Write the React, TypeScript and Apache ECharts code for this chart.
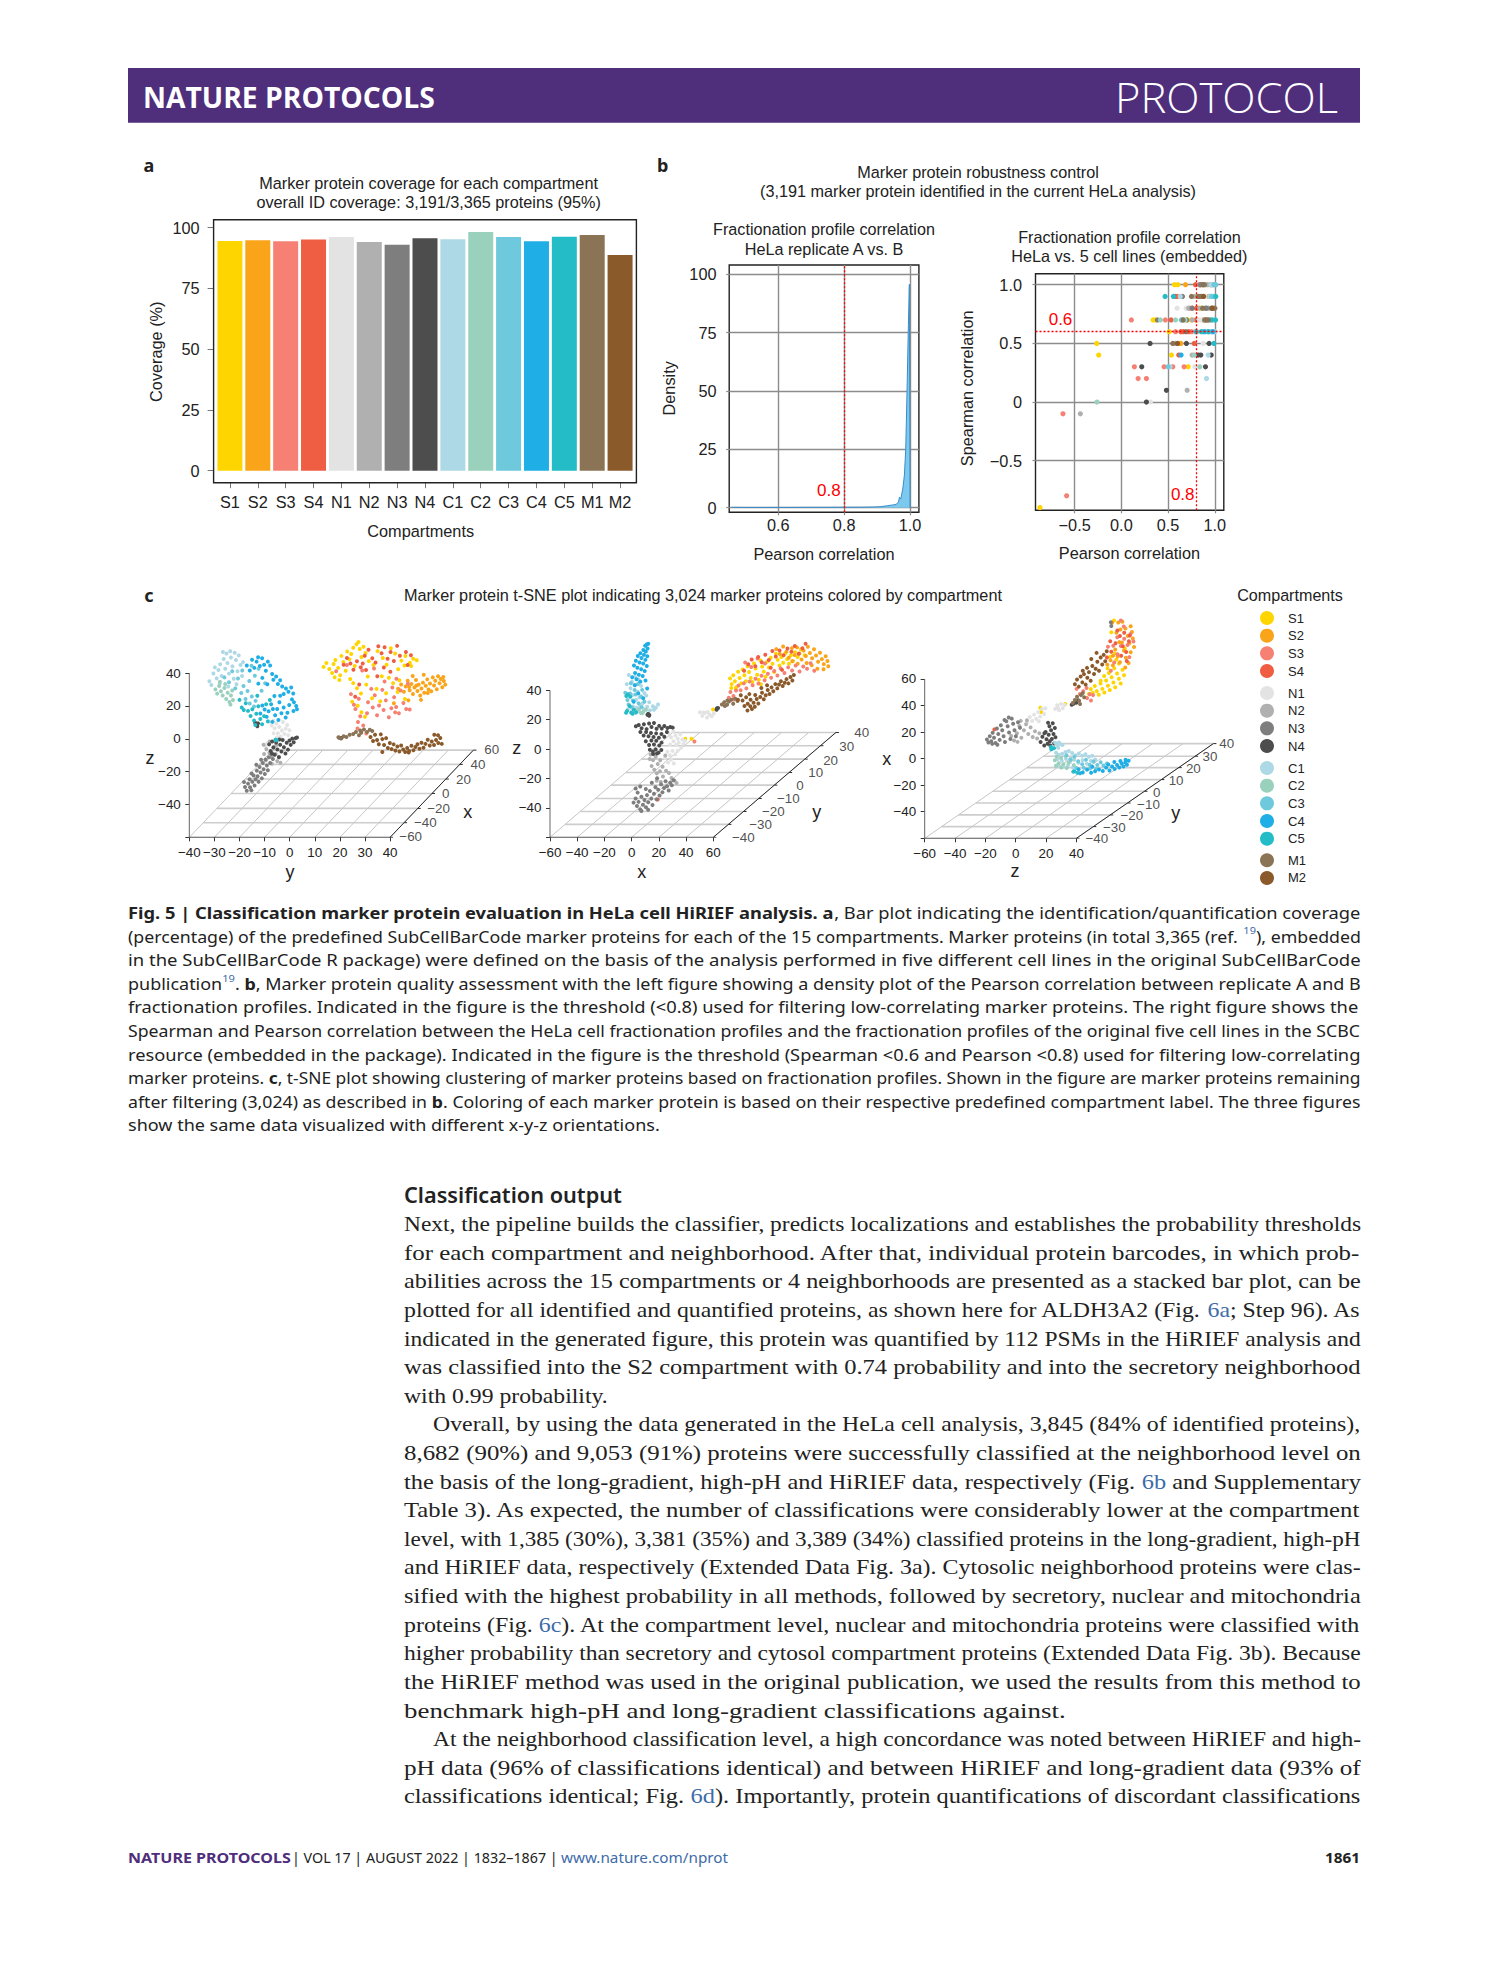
import React, { useEffect, useRef } from "react";
import * as echarts from "echarts";

const compartments = ["S1","S2","S3","S4","N1","N2","N3","N4","C1","C2","C3","C4","C5","M1","M2"];
const colors = ["#FFD500","#FAA41A","#F58073","#EF5D43","#E3E3E3","#B0B0B0","#7E7E7E","#4D4D4D","#ADD8E6","#9AD1BD","#6EC9DC","#1FAEE5","#24BCC6","#8B7355","#8B5A2B"];
const coverage = [94.5,94.8,94.4,95.2,96.2,94.1,93.0,95.7,95.3,98.2,96.2,94.4,96.3,97.0,88.8];

const densityX = [0.459,0.5,0.55,0.6,0.65,0.7,0.75,0.8,0.85,0.889,0.909,0.929,0.949,0.959,0.965,0.968,0.972,0.978,0.983,0.987,0.991,0.995,0.998,1.0];
const densityY = [0.15,0.1,0.1,0.12,0.12,0.15,0.15,0.2,0.2,0.3,0.4,0.8,1.2,1.5,2.5,4.5,3.8,8,14,25,50,78,95.7,0];

const bS1 = [[.568,1],[.604,1],[.9,1],[.804,.9],[.857,.8],[.82,.8],[.339,.7],[.364,.7],[.707,.7],[.75,.7],[.804,.7],[.511,.6],[-.264,.5],[-.243,.4],[.536,.4],[.714,.3],[-.871,-.9],[.93,.9]];
const bS2 = [[.686,1],[.618,.5],[.636,.5],[.85,1],[.97,1],[.9,.9],[.87,.7]];
const bS3 = [[.832,1],[.732,.8],[.107,.7],[.471,.7],[.654,.7],[.579,.6],[.75,.6],[.457,.3],[.55,.3],[.671,.3],[.139,.3],[.179,.2],[.268,.2],[-.625,-.1],[-.586,-.8],[.6,.9],[.76,.8]];
const bS4 = [[.793,1],[.582,.9],[.804,.8],[.532,.7],[.636,.6],[.661,.6],[.779,.5],[.614,.4],[.8,.7],[.72,.6]];
const bN1 = [[.929,1],[.904,.9],[.596,.8],[.693,.8],[.857,.7],[.875,.5],[.786,.3],[.311,0],[.96,.6],[.83,.6],[.95,1],[.89,.9],[.97,.9],[.83,.7],[.94,.8]];
const bN2 = [[.954,1],[.779,.9],[.72,.8],[.79,.6],[.578,.5],[.757,.4],[.704,.1],[-.439,-.1],[.95,.7],[.87,.9],[.84,1],[.92,1],[.98,1],[.94,.9],[.98,.9],[.84,.8],[.93,.8],[.98,.7],[.91,.7],[.76,.7]];
const bN3 = [[.846,1],[.654,.9],[.86,.9],[.757,.8],[.911,.8],[.964,.8],[.89,.7],[.7,.7],[.386,.7],[.89,1],[.87,1],[.9,.8],[.82,.9],[.92,.7]];
const bN4 = [[.307,.5],[.696,.5],[.939,.5],[.821,.4],[.85,.4],[.961,.4],[.218,.3],[.9,.3],[.482,.1],[.268,0]];
const bC1 = [[.989,1],[.96,.9],[.68,.7],[1,.6],[.9,.6],[.929,.4],[.52,.3],[.911,.2],[.63,.9],[.96,1],[.93,.6],[.95,.9],[.99,.9],[.93,.7]];
const bC2 = [[.418,.7],[.579,.7],[.67,.7],[.78,.4],[.839,.3],[-.261,0]];
const bC3 = [[1.01,1],[.964,.9],[.5,.3],[.97,.6],[.64,.7],[.87,.6],[.99,1],[.94,.6],[.985,.9]];
const bC4 = [[.639,.4],[.98,.6],[.89,.6]];
const bC5 = [[.468,.9],[.557,.9],[1.01,.9],[.964,.7],[1.007,.7],[.804,.6],[.857,.6],[.989,.5],[.93,.6]];
const bM1 = [[.875,1],[.75,.9],[.83,.9],[1,.8],[.66,.7],[.93,.7],[.69,.6],[.55,.5],[.87,.8],[.98,.8],[.9,.7],[.85,.9]];
const bM2 = [[.97,.8],[.88,.9],[.6,.5]];

// t-SNE panel 1: read against the y (bottom) and z (left) axes
const p1S1 = [[13.5,43.8],[14.6,46.2],[15.8,42.5],[16.9,40.1],[17.5,45.6],[18.2,48],[19.3,43.2],[20.1,38.7],[20.6,50.5],[21.4,46.8],[22.3,41.5],[22.9,53.2],[23.8,48.4],[24.5,51.6],[25.3,55.4],[25.9,44.3],[26.6,57.6],[27.4,59],[27.9,54.7],[28.6,49.8],[29.4,56.1],[30.2,52.3],[17.9,37.5],[19.8,35.8],[24.1,36.4],[31.5,47.3],[33.4,44.9],[35,53.4],[37.1,49.2],[38.6,45.1],[40.3,55.1],[42,51.9],[44.5,47.6],[46.1,50.4],[47.9,46.3],[49.2,48.8],[50.6,47.9],[48.4,44.3],[45.7,44.7],[43.2,42.4],[25.3,33.9],[26.8,30.8],[28.4,27.6],[24.9,22.5],[27.1,20.1],[30.5,33],[32.8,24.7],[34.6,30.4],[36.1,22.9],[38.4,27.8],[41.2,33.9],[43.7,35.6],[43,28.5],[45.9,24.3],[31.1,37.9],[36.7,38.1],[39.5,37.2],[28.6,16.2],[30,13.4]];
const p1S2 = [[43.2,30.5],[44.4,33.1],[45.5,28.7],[46.2,31.9],[47,35.4],[47.8,29.6],[48.5,33.4],[49.1,27.3],[49.7,31.2],[50.3,35.8],[50.9,29.1],[51.4,33],[52,26.4],[52.5,30.6],[53.1,34.2],[53.6,28.1],[54.2,32.3],[54.8,36.2],[55.3,30],[55.9,33.7],[56.4,28.9],[57,37.4],[57.5,32.5],[58,35.4],[58.6,30.2],[59.1,38.1],[59.7,33.8],[60.2,36.4],[60.8,31.4],[61.4,35.2],[62,33],[61.2,37.7],[53.4,39],[49,38.3],[47.3,23.4],[52.3,23.7],[41.5,21.6],[50.5,32.4],[47.6,31.6],[55,27.9]];
const p1S3 = [[24.4,27.2],[25.6,20.7],[26.2,18.2],[27.5,24.4],[28.1,13.7],[27.2,10.2],[29.3,8.1],[30.8,15.6],[31.2,22.3],[32.5,30.4],[33.1,19.1],[33.9,26.5],[34.8,14.3],[35.6,20.3],[36.9,29.8],[37.4,17.5],[38.3,23.4],[39.5,13.1],[40.5,18.6],[41.6,25.3],[42.4,19.4],[43.5,15.5],[44.2,29.4],[45.3,21.8],[46.4,18.1],[47.1,33.5],[40.9,31.3],[37.8,34.9],[28.9,41.6],[22.8,44.9],[18.5,41.2],[33.6,42.8],[42.5,36.6],[27,6.3],[28.4,4.5],[30.5,3.2],[42,16.1],[47.8,17.8]];
const p1S4 = [[21.5,45.1],[22.8,49.2],[24.2,45.8],[25.4,42],[26.8,47.2],[28.3,43.6],[29.9,50.6],[31.4,54.2],[32.9,49.1],[34.2,46.5],[35.3,56.4],[36.6,52.1],[37.8,55.8],[39,48.7],[40.2,52.9],[41.5,47.4],[42.8,56.6],[43.9,50.6],[30.4,41.9],[34.9,38.1],[29.1,45.8],[37.5,43.4],[27.7,33.1],[26.1,25.6],[40.1,40.8],[46.3,52.8],[48.3,50.9],[47,44.9]];
const p1N1 = [[-8.1,10.4],[-7.2,8.1],[-6.5,11],[-6,6.4],[-5.3,9.3],[-4.7,3.4],[-4.2,7.2],[-3.6,1.4],[-3.1,5.1],[-2.7,10.2],[-2.1,3],[-1.6,6.2],[-1,8.4],[-0.6,2.1],[-0.1,5.2],[-5,1],[-6.4,3.3],[-9,-2.8],[-9.6,-4.6]];
const p1N2 = [[-10.4,-3.6],[-9.3,-6.4],[-8.1,-8.6],[-7.2,-11.3],[-6.4,-5.1],[-5.6,-9.2],[-5,-13.6],[-4.3,-11],[-8,-1.6],[-9.5,-13.1],[-10.2,-9.3],[-7.1,-15.2],[-3.7,-14.6],[-5.4,-3.9]];
const p1N3 = [[-18.2,-26.3],[-17.8,-29.4],[-17.1,-31.6],[-16.6,-27.3],[-16,-24.6],[-15.8,-29.5],[-15.3,-31.4],[-14.9,-26.2],[-14.4,-22.3],[-14,-28.4],[-13.6,-24.7],[-13.1,-19.4],[-12.8,-22.8],[-12.4,-26.2],[-12,-17.2],[-11.6,-20.5],[-11.1,-24.1],[-10.7,-14.8],[-10.4,-18.5],[-9.9,-21.4],[-9.6,-12.6],[-9.1,-16.3],[-8.7,-19.1],[-8.3,-11.2],[-7.8,-14.7],[-7.3,-9.4],[-13.3,-15.8],[-15.2,-21.1],[-11.4,-12.8],[-6.7,-12.3]];
const p1N4 = [[-8.2,-3.4],[-7.6,-7.4],[-7,-1.6],[-6.5,-5.3],[-6,-9.7],[-5.4,-2.2],[-4.9,-6.5],[-4.3,-11.2],[-3.8,-3.6],[-3.3,-7.8],[-2.8,-0.8],[-2.3,-5.1],[-1.7,-9],[-1.2,-2.4],[-0.7,-6.6],[-0.1,-1],[0.4,-3.7],[1,0.1],[1.6,-2.1],[2.3,0.4],[2.9,0.8],[-7.1,-8.8],[-4.1,-0.4],[-13.8,9.9],[-13.1,8.6],[-12.6,9.4],[-12.9,7.7],[19.8,0.6],[20.6,0.4]];
const p1C1 = [[-32,35],[-31.2,32.7],[-30.4,39.8],[-29.8,43.5],[-29.1,36.8],[-28.4,41.9],[-27.7,45.4],[-27.1,38.2],[-26.6,52.9],[-26.3,48.6],[-25.7,42.7],[-25.2,52],[-24.8,46.2],[-24.2,39.7],[-23.7,53.3],[-23.4,49.5],[-22.8,44.1],[-22.3,36.6],[-21.9,52.4],[-21.4,48],[-20.8,41.1],[-20.3,50.8],[-19.6,44.9],[-19,38.3],[-18.6,46.7],[-27.9,33.5],[-24.5,31.8],[-21.2,33.2]];
const p1C2 = [[-29.6,30.1],[-28.9,27.5],[-28.1,32.1],[-27.4,29],[-26.7,26.4],[-26,31],[-25.3,24.3],[-24.7,28.1],[-24,22.4],[-23.4,26.4],[-22.6,23.6],[-22.9,29.4],[-25.7,33.4],[-27.8,34.7],[-23.6,20.8]];
const p1C3 = [[-26,37.4],[-24.2,34.5],[-22.9,41.1],[-21.7,30.7],[-20.6,36.7],[-19.3,27.9],[-18.4,32.1],[-17.6,24.2],[-16.8,29.1],[-15.9,21.5],[-15.1,25.8],[-14.2,19.7],[-16.1,35.2],[-13.9,38.4],[-12.4,42.6],[-18.9,41.6],[-15.2,44.5],[-11.2,29.3],[-13.6,23.1],[-9.8,33.8]];
const p1C4 = [[-17.1,44.7],[-15.9,41.6],[-15,48.2],[-14.1,43.2],[-13.2,47],[-12.6,49.7],[-11.9,44.3],[-11,49],[-10.2,45.1],[-9.5,41.4],[-8.7,47],[-7.8,44.7],[-7,39.5],[-6.5,35.9],[-5.4,38],[-4.7,33.4],[-3.8,35.7],[-3,31.8],[-2.4,27.3],[-1.5,30.6],[-0.5,28.6],[0.6,31.2],[1.4,27.6],[0.9,24],[-0.2,20.6],[1.7,22.2],[2.6,20],[2.9,18],[1.5,16.9],[-0.9,15.8],[-2.4,19],[-3.3,15.5],[-4.1,22.3],[-5,18.1],[-5.8,14.3],[-6.7,18.2],[-7.4,21.1],[-8.4,16.8],[-9.2,13.4],[-10,17.8],[-10.9,20.3],[-11.7,15.4],[-4.5,11.4],[-6.9,10.3],[-1.6,13],[-3.8,26.2],[-8.9,33.2],[-10.9,37.1],[-12.5,33.6],[-6.1,26]];
const p1C5 = [[-20,23.7],[-19.1,19.1],[-18.3,17.5],[-17.5,21.6],[-16.6,17],[-15.6,13.9],[-14.9,18],[-14.2,11.2],[-13.3,15.3],[-12.5,19.8],[-11.7,12.1],[-11,8.9],[-10.2,13.8],[-9.4,21],[-8.7,10.6],[-7.9,23.6],[-13.7,8.4],[-12.9,26.2],[-5.7,-0.5],[-5.2,-0.9]];
const p1M1 = [[19.4,0.9],[20.4,0.2],[21.5,1.6],[22.6,1.1],[23.9,2.5],[25.3,2.9],[26.4,4.2],[27.6,2.1],[28.5,3.7],[29.6,5.6],[30.8,4.1],[31.9,5.5],[32.9,4.8],[28.1,5.1]];
const p1M2 = [[32.2,1.1],[33.2,-1.4],[34,2.4],[34.8,-0.8],[35.5,-3.3],[36.3,2.7],[36.9,-0.2],[37.6,-3.8],[38.4,0.4],[39.1,-5.6],[39.9,-2.5],[40.6,-6.3],[41.4,-3.4],[42.1,-7.1],[42.9,-4.7],[43.7,-7.8],[44.4,-4.1],[45.2,-6.5],[46,-8.1],[46.8,-5.6],[47.6,-7.4],[48.5,-4.3],[49.3,-7],[50.1,-5],[50.9,-3.3],[51.7,-6.1],[52.5,-2.4],[53.3,-5.4],[54.1,-3.1],[55,-0.6],[55.8,-4.1],[56.6,-1.7],[57.5,-3.8],[58.3,-0.8],[59.2,-2.6],[60,0.5],[60.6,-3.1],[59.1,2.1],[57.6,2.5],[36.9,-8],[47.4,-8.3]];

// t-SNE panel 2: read against the x (bottom) and z (left) axes
const p2S1 = [[72.3,48.1],[73.5,44.2],[74.7,50.3],[75.9,46.1],[77,42.3],[78.2,52.6],[79.3,48.4],[80.5,44.7],[81.6,54.2],[82.8,50.3],[83.9,46.1],[85.2,56.3],[86.3,52.4],[87.5,48.3],[88.7,45.6],[89.9,58.2],[91,54.8],[92.2,50.6],[93.4,47.2],[94.7,60.2],[95.9,56.1],[97.1,52.7],[98.4,49.2],[99.6,59.4],[100.9,55.5],[102.2,62.1],[103.5,58.1],[104.7,52.4],[106,64.8],[107.3,60.7],[108.6,56.9],[110,62.6],[111.4,58.7],[112.8,65],[114.2,61.2],[115.6,58.1],[117,63.8],[118.6,60],[120.1,65.9],[122,62.6],[124.4,67.8],[127.1,63.9],[76.5,41.3],[73.2,41.5],[95,44.1],[39.4,7],[44,7],[59.8,27]];
const p2S2 = [[106.3,68],[108.9,64.7],[111.3,69.8],[113.7,66.3],[115.5,62.1],[117.8,68.7],[119.8,64],[121.5,69.2],[123.2,65.1],[124.9,60.9],[126.4,67],[128,63.3],[129.5,69.6],[131,65.4],[132.6,61.8],[134,67.9],[135.5,63.7],[137,59.4],[138.4,65.5],[139.8,61.2],[141.2,57.8],[142.6,63.2],[143.9,59.9],[144.5,56.3],[141,54.3],[136.5,54.6],[132.3,57.1],[128.6,58.6],[118,59.7],[122,58]];
const p2S3 = [[72.6,38.8],[74.8,36.1],[76.7,39.9],[78.5,43.2],[80.1,40.1],[82.4,44.7],[84.3,41.3],[86.7,46],[88.9,43.4],[91,47.8],[93.2,44.6],[95.4,49.9],[97.7,46.8],[100.1,51.3],[102.5,48.6],[104.8,53.1],[107.1,50],[109.5,54.9],[112.3,51.7],[115,55.6],[117.9,53.4],[120.5,56.9],[123.4,52.8],[126.1,56.2],[128.9,54.6],[131.5,58.4],[134.2,53.3],[83.4,58.9],[87.9,55.8],[92.5,61.7],[98,58.3],[75,33.7],[71.4,34.9],[46.1,5.2]];
const p2S4 = [[82.6,53.3],[85.7,57.7],[88.2,60.9],[90.9,56.4],[93,62.6],[95.6,59.1],[98.2,64.2],[100.8,60.6],[103.4,66.7],[105.9,63],[108.7,67.1],[111.6,63.8],[114.5,68.4],[117.4,66.2],[119.9,70.1],[122.8,64.9],[125.5,68.6],[127.8,71.6],[102.2,55.3],[110.5,53.9],[19.1,-34.3]];
const p2N1 = [[27.1,10.9],[29,8],[30.6,11.9],[32.2,9.2],[33.9,7],[35.7,10.1],[37.2,6.6],[28.3,3.1],[30.8,5.3],[32.7,2.9],[34.6,4.4],[36.4,1],[38,3.4],[39.3,5.6],[26.3,-1.8],[28.1,-4.2],[30,-1.2],[32,-3.6],[33.8,-1.1],[24.6,-6.1],[26.8,-9.2],[28.9,-7.3],[31,-9.8],[50.1,25],[51.9,22.6],[53.8,24.6],[55.4,21.5],[57.3,23.5],[58.8,22.4],[60.4,24.2],[52.6,24.9],[55.9,25.3]];
const p2N2 = [[13.9,-3.7],[15.7,-7.5],[17.6,-5.3],[19.2,-10.1],[21,-7.6],[22.7,-12],[24.7,-4.3],[14.7,-11.5],[16.6,-14.1],[18.5,-16.5],[20.8,-15],[23,-18.6],[25.3,-14.7],[27.4,-16.3],[29.3,-19.6],[31.5,-21.3],[18.4,-21.6],[21.4,-22.4],[33,-23],[13.3,-6.8]];
const p2N3 = [[1.4,-36.4],[2.9,-33.6],[3.9,-38.7],[5.1,-35.9],[6.3,-41],[7.2,-32.4],[8.3,-37.8],[9.4,-34.6],[10.5,-39.6],[11.3,-31.3],[12.2,-36.1],[13.4,-28.5],[14.4,-33.7],[15.3,-38.1],[16.4,-30.4],[17.5,-25.9],[18.3,-34.2],[19.5,-27.7],[20.5,-31.5],[21.6,-24],[22.6,-29.3],[23.8,-26.4],[24.9,-21.9],[26,-25.3],[27.2,-28.1],[28.3,-22.9],[29.5,-24.6],[30.7,-21.2],[4.4,-29.6],[2.9,-26.8],[6.3,-25.4],[10.4,-27.1],[14.8,-22.9],[18.7,-19.8],[7.2,-42.1],[12.1,-41.3]];
const p2N4 = [[3.1,15.6],[5.2,16.4],[7.3,14.2],[9,16.9],[11,13.6],[12.8,17.4],[14.6,15.1],[16.4,17.8],[18.3,13.9],[20.2,15.8],[22.1,14],[24,15.7],[26.3,14.4],[28.4,15.1],[30.2,14.6],[6.4,11.7],[8.8,9.3],[10.6,11.6],[12.4,8.8],[14.2,11],[16.1,8.2],[18,10.7],[20,7.7],[21.9,10.3],[24,8.4],[25.9,11.6],[10.4,5.3],[12.8,2.8],[14.5,5.9],[16.4,3.1],[18.1,5.7],[20.3,2.5],[22,4.4],[13.4,-0.4],[15.6,-1.6],[17.7,-0.2],[19.8,-2.4],[21.8,-0.6],[15.8,-3.4],[18.6,-3],[12.2,24],[13,23.2],[11.6,23.4],[12.8,22.7],[62.6,27.7],[63.5,27.9],[62.4,26.8]];
const p2C1 = [[-2.1,50.4],[0.2,45.9],[2.5,49],[5,47.3],[-3.6,44.2],[-0.8,41.4],[1.9,43.8],[4.4,39.1],[6.9,43],[9.3,38.2],[-2.3,36.6],[0.6,36.8],[3.2,33.6],[5.7,35.1],[8.1,31.2],[10.7,36.4],[1,29],[3.7,28.2],[6,30],[8.8,27.2],[11.4,28.8],[13.5,26.4],[15.6,29.2],[17.8,28.1],[19.4,30.4],[16.4,26.8],[12.9,31.8],[-2.7,27.1],[-0.3,25.2],[2.8,24.6],[5.4,25.8],[7.9,24.3]];
const p2C2 = [[2.9,26.1],[5.5,27.2],[8.4,25.3],[10.5,26.8],[6.8,24.6]];
const p2C3 = [[-4.7,38.3],[-3.1,33.4],[-1.2,37.8],[0.9,33],[2.9,37.1],[5.1,31.2],[7.3,28.6],[9.4,32.2],[-0.6,44.8],[2.2,40.2],[4.6,44.3],[7.7,40.3],[0.1,28.3],[6.9,35.8],[-2.3,30.4]];
const p2C4 = [[12.2,71.7],[11,71.2],[9.9,70.3],[11.7,68.5],[8.6,67.4],[10.4,66.3],[6.4,65.2],[9,64.1],[11.5,63.2],[4.5,63.4],[7.2,61.9],[10.1,60.7],[3.1,60.1],[5.8,58.9],[8.5,58.2],[11.1,56.6],[1.7,56.8],[4.2,55.4],[7,54.3],[9.6,53.1],[2.5,51.8],[5.3,50.6],[8.1,49.7],[0.4,48.9],[3.6,47.5],[6.4,45.9],[10.2,46.7],[4.9,37.9],[8.5,34.6],[2.4,43.4],[11.4,41.2],[1.5,32.2]];
const p2C5 = [[-3.4,26],[-1.5,29.3],[-0.3,24.7],[1.6,26.8],[3.3,25],[-4.1,24.8],[-2.8,37.3],[-3.9,36.1],[0.7,24.1],[-1,35.6]];
const p2M1 = [[66.3,30.4],[68,31.8],[70.1,30.1],[71.5,32.3],[73.2,33.5],[74.6,30.8],[76.1,34.2],[77.8,32.7],[70.3,33],[68.5,29.3]];
const p2M2 = [[78.1,33.6],[80.2,36.7],[81.5,33],[82.9,29.3],[84.1,35.2],[85.3,30.8],[86.5,37.4],[87.4,33.6],[88.4,27.2],[89.6,31.6],[90.8,36.8],[91.9,34.1],[93.1,31],[94.5,35.5],[95.8,38.4],[97.1,33.9],[98.5,36.6],[100,40.2],[101.3,37.5],[102.8,42],[104.1,39.3],[105.6,44.2],[107,41.3],[108.3,43.9],[109.7,46.2],[111,42.9],[112.5,45.1],[113.8,47.6],[115.2,44.7],[116.7,49.1],[118.1,46.6],[119.2,50.4],[87.2,29.1],[85.1,26.3],[90.5,28.8],[95.3,41.5],[99.5,43.4]];

// t-SNE panel 3: read against the z (bottom) and x (left) axes
const p3S1 = [[48.2,48.6],[49.5,52.3],[50.8,49.5],[52.1,54.7],[53.4,50.8],[54.7,48.1],[55.9,56.6],[57.1,52.5],[58.4,49.7],[59.6,58.8],[60.8,54.9],[62,51.6],[63.2,61.3],[64.4,57.3],[65.6,53.8],[66.8,64.1],[68,60.2],[69.2,56.6],[70.4,66.9],[71.4,62.8],[58.3,62.2],[61.4,64.5],[65,68],[68,71.5],[56,58.6],[62.2,76.6],[65.4,79.2],[63,95.1],[64.8,104],[72,82.9],[60.5,67.8],[66.3,74.5],[16.2,38.3],[16.7,35.1],[32.7,41.1]];
const p3S2 = [[60.4,70.6],[62.5,74.1],[64,70.2],[65.6,82.1],[67.2,76.8],[68.7,72.5],[70,87.4],[71.3,81.3],[72.6,75.9],[73.8,92.4],[74.9,86.9],[75.8,80],[76.6,95.3],[77.2,90.5],[78,84.1],[72.3,98],[70.3,103],[69,97.2],[67.6,102.5],[66.4,94.8],[68.3,87.7],[64.1,77.4],[74.4,71.9],[72.2,68.6],[75.8,99.6],[63.5,102.3]];
const p3S3 = [[40.1,52.5],[42.3,48.6],[44.5,50.8],[46.7,53.1],[48.8,48.4],[51,47.8],[47,45.6],[49.6,43.7],[62.7,66.1],[64.9,72.3],[67.1,78.6],[69.3,84.7],[71.5,90.2],[73.7,85.5],[75.6,93.8],[66.9,91.3],[64.3,85],[71.2,99.4],[74.9,76.4],[77.6,88.2],[60.8,84.2],[69.3,104]];
const p3S4 = [[60.1,76.2],[63,80.4],[65.8,86.8],[68.7,92.3],[70.6,84.6],[72.8,80.2],[74.6,88.3],[71.5,94.8],[73.2,73.5],[69.5,77.4],[67,96.5],[62.3,88.4],[75.2,92.6],[-14.1,22]];
const p3N1 = [[7.6,27.6],[9.3,31.3],[10.8,28.4],[12.1,33.1],[13.5,29.9],[14.8,35],[16.1,31.6],[17.4,37.3],[18.7,33.6],[19.6,37.9],[15.2,28.1],[26,37.4],[27.3,40.2],[28.6,36.4],[29.8,41.1],[31,38],[32.3,40.4],[27.8,38.4]];
const p3N2 = [[-3,17.1],[-1.1,13.6],[0.8,19.1],[2.4,24.6],[3.7,15.7],[5.4,21.4],[6.8,25.9],[8.3,18.6],[9.8,23.5],[11.2,16.3],[12.7,20.6],[14.1,15.1],[15.6,19.1],[3.3,28.4],[7.4,28.8],[1.2,12.6]];
const p3N3 = [[-19,14.4],[-18,12.1],[-17.1,16.8],[-16.1,13.1],[-15.2,19.4],[-14.3,15.7],[-13.3,11.8],[-12.4,22.6],[-11.5,18.5],[-10.6,14.1],[-9.8,25.1],[-8.9,21.4],[-8,16.8],[-7.1,12.5],[-6.2,28.2],[-5.3,24.4],[-4.4,19.6],[-3.5,14.8],[-2.6,30.1],[-1.7,26.2],[-0.8,21.3],[0.1,16.9],[-4.6,31],[-7.4,29],[-12.1,10.4],[-15.5,11.1],[1.5,27.3],[2.8,23.3],[62.7,102.7],[63,99.9]];
const p3N4 = [[16.4,12.5],[17.6,16.4],[18.8,9.8],[19.7,20.1],[20.3,14.6],[21,11.2],[21.7,17.9],[22.2,24.3],[22.8,9.9],[23.3,21.4],[23.8,14.8],[24.4,26.6],[24.9,18.6],[25.3,11.4],[25.8,23.1],[26.2,16.1],[21.3,27],[22.5,13],[18.9,19.1],[39.9,42],[38.1,41.3],[36.9,40.6],[41.1,43.9]];
const p3C1 = [[26,12],[27.2,10.4],[28.5,12.2],[29.6,10.9],[30.8,10.2],[28,8.2],[26.6,4.5],[28.4,2.9],[30.6,3.6],[32.8,4.9],[35,5.7],[37.2,4.2],[39.4,2.6],[41.6,3.8],[43.8,2.1],[46,3.3],[48.2,1.4],[50.4,2.2],[27.6,-0.4],[30.4,-1.6],[33.1,-0.2],[35.8,-2.5],[38.6,-0.9],[41.3,-3.1],[44.1,-1.2],[46.9,-3.8],[49.6,-1.7],[52.4,-0.6],[27.8,-5.4],[31.2,-6.2],[34.5,-5],[37.8,-6.6]];
const p3C2 = [[25.8,-1.2],[27,1.6],[28.3,-3.5],[29.9,0.4],[31.4,-4.3],[33,1.8],[34.8,-3.2],[36.5,-1],[38.3,-4.9],[26.5,-5.4],[30,-6.8],[33.6,-7.1]];
const p3C3 = [[33.5,2.5],[36,-0.5],[38.7,1.4],[41.2,-2],[43.8,-4.3],[46.3,-0.8],[48.8,-4.6],[51.3,-2.1],[53.8,-4.8],[56,-2.8],[40,-7.1],[44.8,-6.9],[49,-7.4],[53,-7.9],[57.8,-5.2],[60.1,-3.6]];
const p3C4 = [[38.5,-9.6],[41.5,-8.1],[44.2,-10.4],[47,-8.3],[49.7,-10.6],[52.3,-9.5],[54.9,-8.2],[57.4,-9.3],[59.6,-6.8],[61.8,-8.9],[63.5,-5.9],[65.2,-7.8],[66.8,-4.8],[68.3,-6.7],[69.8,-3.6],[71,-5.9],[72.2,-2.9],[73.3,-4.6],[74.4,-1.6],[72.4,-0.8],[69,-1.8],[65,-2.6],[61,-4.5],[50.5,-6.2],[42.4,-11]];
const p3C5 = [[23.2,8.8],[24.1,7.5],[25.3,7.9],[40.6,-10.6],[37.9,-9.8],[23.4,7]];
const p3M1 = [[37.6,41.8],[39,44.2],[40.4,46.6],[41.8,43.5],[43,47.8],[44.2,49.3],[45.1,46.2],[42.4,41.1]];
const p3M2 = [[39,56],[40.4,59.5],[41.6,54.2],[42.8,61.8],[43.9,57.4],[45,63.6],[46.1,55.7],[47.2,60.9],[48.3,65.1],[49.4,58.6],[50.5,69.8],[51.6,63.7],[52.7,67.6],[53.8,72.9],[54.9,66.1],[56,76.2],[57,70.8],[58,78.1],[59,73.3],[60,80.9],[44.2,66.2],[47,68.3],[49.8,75],[53.3,79.6]];

const bPoints = [bS1,bS2,bS3,bS4,bN1,bN2,bN3,bN4,bC1,bC2,bC3,bC4,bC5,bM1,bM2];
const p1Points = [p1S1,p1S2,p1S3,p1S4,p1N1,p1N2,p1N3,p1N4,p1C1,p1C2,p1C3,p1C4,p1C5,p1M1,p1M2];
const p2Points = [p2S1,p2S2,p2S3,p2S4,p2N1,p2N2,p2N3,p2N4,p2C1,p2C2,p2C3,p2C4,p2C5,p2M1,p2M2];
const p3Points = [p3S1,p3S2,p3S3,p3S4,p3N1,p3N2,p3N3,p3N4,p3C1,p3C2,p3C3,p3C4,p3C5,p3M1,p3M2];

const p1BottomTicks = [-40,-30,-20,-10,0,10,20,30,40];
const p2BottomTicks = [-60,-40,-20,0,20,40,60];
const p3BottomTicks = [-60,-40,-20,0,20,40];
const p1Levels = [-60,-51.1,-42.4,-33.3,-24.5,-15.6,-6.9];
const p2Levels = [-60,-51.2,-42.4,-33.6,-24.5,-15.9,-6.8,2.3,11.3];
const p3Levels = [-60,-51.2,-42.4,-33.4,-24.6,-15.8,-6.8,1.8,11.3];
const p1DepthLabels = [[48.2,-59.8,"−60"],[54,-51,"−40"],[59.3,-42.4,"−20"],[62.2,-33.5,"0"],[69.2,-24.7,"20"],[75,-15.6,"40"],[80.5,-6.3,"60"]];
const p2DepthLabels = [[82.1,-60,"−40"],[94.8,-51,"−30"],[104.1,-42.2,"−20"],[115.1,-33.6,"−10"],[123.7,-24.5,"0"],[135.2,-15.9,"10"],[146.2,-7.5,"20"],[158,2,"30"],[169,11.1,"40"]];
const p3DepthLabels = [[53.4,-60,"−40"],[65,-51.7,"−30"],[76.5,-42.9,"−20"],[87.5,-34.4,"−10"],[93,-25.4,"0"],[105.7,-16.3,"10"],[117.1,-7.3,"20"],[128.1,1.8,"30"],[139.1,11.1,"40"]];

const captionLines = [
  "*Fig. 5 | Classification marker protein evaluation in HeLa cell HiRIEF analysis. a*, Bar plot indicating the identification/quantification coverage",
  "(percentage) of the predefined SubCellBarCode marker proteins for each of the 15 compartments. Marker proteins (in total 3,365 (ref. ^19^), embedded",
  "in the SubCellBarCode R package) were defined on the basis of the analysis performed in five different cell lines in the original SubCellBarCode",
  "publication^19^. *b*, Marker protein quality assessment with the left figure showing a density plot of the Pearson correlation between replicate A and B",
  "fractionation profiles. Indicated in the figure is the threshold (<0.8) used for filtering low-correlating marker proteins. The right figure shows the",
  "Spearman and Pearson correlation between the HeLa cell fractionation profiles and the fractionation profiles of the original five cell lines in the SCBC",
  "resource (embedded in the package). Indicated in the figure is the threshold (Spearman <0.6 and Pearson <0.8) used for filtering low-correlating",
  "marker proteins. *c*, t-SNE plot showing clustering of marker proteins based on fractionation profiles. Shown in the figure are marker proteins remaining",
  "after filtering (3,024) as described in *b*. Coloring of each marker protein is based on their respective predefined compartment label. The three figures",
  "show the same data visualized with different x-y-z orientations.",
];
const bodyLines = [
  "Next, the pipeline builds the classifier, predicts localizations and establishes the probability thresholds",
  "for each compartment and neighborhood. After that, individual protein barcodes, in which prob-",
  "abilities across the 15 compartments or 4 neighborhoods are presented as a stacked bar plot, can be",
  "plotted for all identified and quantified proteins, as shown here for ALDH3A2 (Fig. ~6a~; Step 96). As",
  "indicated in the generated figure, this protein was quantified by 112 PSMs in the HiRIEF analysis and",
  "was classified into the S2 compartment with 0.74 probability and into the secretory neighborhood",
  "with 0.99 probability.",
  "Overall, by using the data generated in the HeLa cell analysis, 3,845 (84% of identified proteins),",
  "8,682 (90%) and 9,053 (91%) proteins were successfully classified at the neighborhood level on",
  "the basis of the long-gradient, high-pH and HiRIEF data, respectively (Fig. ~6b~ and Supplementary",
  "Table 3). As expected, the number of classifications were considerably lower at the compartment",
  "level, with 1,385 (30%), 3,381 (35%) and 3,389 (34%) classified proteins in the long-gradient, high-pH",
  "and HiRIEF data, respectively (Extended Data Fig. 3a). Cytosolic neighborhood proteins were clas-",
  "sified with the highest probability in all methods, followed by secretory, nuclear and mitochondria",
  "proteins (Fig. ~6c~). At the compartment level, nuclear and mitochondria proteins were classified with",
  "higher probability than secretory and cytosol compartment proteins (Extended Data Fig. 3b). Because",
  "the HiRIEF method was used in the original publication, we used the results from this method to",
  "benchmark high-pH and long-gradient classifications against.",
  "At the neighborhood classification level, a high concordance was noted between HiRIEF and high-",
  "pH data (96% of classifications identical) and between HiRIEF and long-gradient data (93% of",
  "classifications identical; Fig. ~6d~). Importantly, protein quantifications of discordant classifications",
];

const SANS = '"Liberation Sans", Arial, sans-serif';
const CAP = '"Noto Sans", sans-serif';
const SERIF = '"Liberation Serif", serif';
const INK = "#222222";
const LINK = "#3E6CA8";
const PURPLE = "#4F2E7B";
const LABEL_SIZE = 16.3;
const TSNE_SIZE = 13.4;

const ctx = document.createElement("canvas").getContext("2d") as CanvasRenderingContext2D;
function measure(text: string, size: number, family: string, weight: string) {
  ctx.font = `${weight} ${size}px ${family}`;
  return ctx.measureText(text).width;
}

function txt(text: string, x: number, y: number, o: any = {}) {
  const size = o.size ?? LABEL_SIZE, family = o.family ?? SANS, weight = o.weight ?? "normal";
  const scale = o.width ? o.width / measure(text, size, family, weight) : 1;
  return {
    type: "text", x, y, scaleX: scale, rotation: o.rotation ?? 0, silent: true, z: 10,
    style: { text, fill: o.fill ?? INK, fontSize: size, fontFamily: family, fontWeight: weight, align: o.align ?? "center", verticalAlign: "middle" },
  };
}

function para(line: string, x: number, y: number, width: number | null, size: number, family: string) {
  const segs = line.split(/(\*[^*]+\*|~[^~]+~|\^[^^]+\^)/).filter(Boolean).map((s) => {
    const k = s[0];
    if (k === "*") return { t: s.slice(1, -1), weight: "bold", fill: INK, size, dy: 0 };
    if (k === "~") return { t: s.slice(1, -1), weight: "normal", fill: LINK, size, dy: 0 };
    if (k === "^") return { t: s.slice(1, -1), weight: "normal", fill: LINK, size: size * 0.62, dy: -size * 0.38 };
    return { t: s, weight: "normal", fill: INK, size, dy: 0 };
  });
  const widths = segs.map((s) => measure(s.t, s.size, family, s.weight));
  const total = widths.reduce((a, b) => a + b, 0);
  const scale = width ? width / total : 1;
  let cx = x;
  return segs.map((s, i) => {
    const el = {
      type: "text", x: cx, y: y + s.dy, scaleX: scale, silent: true, z: 10,
      style: { text: s.t, fill: s.fill, fontSize: s.size, fontFamily: family, fontWeight: s.weight, align: "left", verticalAlign: "middle" },
    };
    cx += widths[i] * scale;
    return el;
  });
}

const minus = (v: number) => String(v).replace("-", "−");
const fixed1 = (v: number) => v.toFixed(1).replace("-", "−");
const plain = (v: number) => (v === 0 ? "0" : v === 1 ? "1.0" : String(v).replace("-", "−"));

function floorSeries(grid: number, ticks: number[], levels: number[], shift: number, tickUnits: number, leftTop: number) {
  const z0 = levels[0], z1 = levels[levels.length - 1];
  const at = (z: number) => (shift * (z - z0)) / (z1 - z0);
  const x0 = ticks[0], x1 = ticks[ticks.length - 1];
  const hor: any[] = [], obl: any[] = [], dark: any[] = [];
  levels.forEach((z, i) => {
    if (i > 0) hor.push([x0 + at(z), z], [x1 + at(z), z], ["-", "-"]);
    dark.push([x1 + at(z), z], [x1 + at(z) + tickUnits, z], ["-", "-"]);
  });
  ticks.forEach((x) => obl.push([x, z0], [x + shift, z1], ["-", "-"]));
  dark.push([x0, z0], [x1, z0], ["-", "-"], [x1, z0], [x1 + shift, z1]);
  const base = { type: "line", xAxisIndex: grid, yAxisIndex: grid, symbol: "none", silent: true, connectNulls: false };
  return [
    { ...base, data: hor, lineStyle: { color: "#cdcdcd", width: 1.6 }, z: 1 },
    { ...base, data: obl, lineStyle: { color: "#c6c6c6", width: 1 }, z: 1 },
    { ...base, data: dark, lineStyle: { color: "#2a2a2a", width: 1 }, z: 1 },
    { ...base, data: [[x0, z0], [x0, leftTop]], lineStyle: { color: "#666666", width: 1 }, z: 1 },
  ];
}

function depthLabels(grid: number, rows: any[]) {
  return {
    type: "scatter", xAxisIndex: grid, yAxisIndex: grid, symbolSize: 1, silent: true, z: 3,
    itemStyle: { color: "rgba(0,0,0,0)" },
    data: rows.map((r) => ({ value: [r[0], r[1]], name: r[2] })),
    label: { show: true, position: "inside", formatter: (p: any) => p.name, fontSize: TSNE_SIZE, fontFamily: SANS, color: INK },
  };
}

function pointSeries(grid: number, sets: number[][][], size: number) {
  return compartments.map((name, i) => ({
    type: "scatter", name, xAxisIndex: grid, yAxisIndex: grid, symbolSize: size, silent: true, z: 2,
    itemStyle: { color: colors[i], opacity: 1 }, data: sets[i],
  }));
}

function tsneAxes(grid: number, xr: number[], yr: number[], xt: number[], yTicks: number[], yLabels: number[]) {
  return {
    x: {
      type: "value", gridIndex: grid, min: xr[0], max: xr[1], splitLine: { show: false }, axisLine: { show: false, onZero: false },
      axisTick: { show: true, customValues: xt, length: 4, lineStyle: { color: "#333" } },
      axisLabel: { customValues: xt, formatter: minus, fontSize: TSNE_SIZE, fontFamily: SANS, color: INK, margin: 9, hideOverlap: false },
    },
    y: {
      type: "value", gridIndex: grid, min: yr[0], max: yr[1], splitLine: { show: false }, axisLine: { show: false, onZero: false },
      axisTick: { show: true, customValues: yTicks, length: 4, lineStyle: { color: "#333" } },
      axisLabel: { customValues: yLabels, formatter: minus, fontSize: TSNE_SIZE, fontFamily: SANS, color: INK, margin: 8.5, hideOverlap: false },
    },
  };
}

function buildOption() {
  const graphic: any[] = [
    { type: "rect", shape: { x: 128, y: 68, width: 1232, height: 54.7 }, style: { fill: PURPLE }, silent: true, z: 0 },
    { type: "rect", shape: { x: 213.6, y: 219.7, width: 422.8, height: 263 }, style: { fill: "none", stroke: "#222", lineWidth: 1.4 }, silent: true, z: 10 },
    txt("NATURE PROTOCOLS", 143, 97, { size: 28, family: '"Open Sans", sans-serif', weight: "bold", fill: "#fff", align: "left", width: 292 }),
    txt("PROTOCOL", 1115, 97, { size: 42, family: '"Open Sans", sans-serif', weight: "300", fill: "#fff", align: "left", width: 223 }),
    txt("a", 149, 165, { size: 18, family: CAP, weight: "bold" }),
    txt("b", 662.6, 164.5, { size: 18, family: CAP, weight: "bold" }),
    txt("c", 149, 594.5, { size: 18, family: CAP, weight: "bold" }),
    txt("Marker protein coverage for each compartment", 428.6, 182.7, { width: 338.6 }),
    txt("overall ID coverage: 3,191/3,365 proteins (95%)", 428.6, 201.7, { width: 344.3 }),
    txt("Compartments", 420.7, 530.7),
    txt("Coverage (%)", 155.7, 351.7, { rotation: Math.PI / 2 }),
    txt("Marker protein robustness control", 978, 171.7, { width: 241.6 }),
    txt("(3,191 marker protein identified in the current HeLa analysis)", 978, 190.7, { width: 435.6 }),
    txt("Fractionation profile correlation", 824, 228.7, { width: 221.8 }),
    txt("HeLa replicate A vs. B", 824, 248.7, { width: 160.4 }),
    txt("Fractionation profile correlation", 1129.4, 236.7, { width: 222.3 }),
    txt("HeLa vs. 5 cell lines (embedded)", 1129.4, 255.7, { width: 236 }),
    txt("Pearson correlation", 824, 553.7),
    txt("Pearson correlation", 1129.4, 552.7),
    txt("Density", 669.3, 388.3, { rotation: Math.PI / 2 }),
    txt("Spearman correlation", 966.6, 388.3, { rotation: Math.PI / 2 }),
    txt("0.8", 828.8, 490.7, { fill: "#ff0000", size: 17 }),
    txt("0.8", 1182.7, 494.7, { fill: "#ff0000", size: 17 }),
    txt("0.6", 1060.5, 319, { fill: "#ff0000", size: 17 }),
    txt("Marker protein t-SNE plot indicating 3,024 marker proteins colored by compartment", 703, 594.7, { width: 598 }),
    txt("Compartments", 1290, 594.7, { width: 105.7 }),
    txt("y", 290, 871.5, { size: 18 }),
    txt("z", 150, 757.5, { size: 18 }),
    txt("x", 467.7, 812, { size: 18 }),
    txt("x", 641.7, 871.5, { size: 18 }),
    txt("z", 516.7, 748, { size: 18 }),
    txt("y", 816.7, 812, { size: 18 }),
    txt("z", 1015, 871, { size: 18 }),
    txt("x", 886.7, 759, { size: 18 }),
    txt("y", 1175.7, 813, { size: 18 }),
    txt("Classification output", 404, 1195, { size: 21, family: CAP, weight: "600", align: "left", width: 218 }),
    txt("NATURE PROTOCOLS", 128, 1857, { size: 14.5, family: CAP, weight: "bold", fill: PURPLE, align: "left", width: 163 }),
    txt("| VOL 17 | AUGUST 2022 | 1832–1867 |", 292, 1857, { size: 14.5, family: CAP, align: "left", width: 266 }),
    txt("www.nature.com/nprot", 561, 1857, { size: 14.5, family: CAP, fill: LINK, align: "left", width: 167 }),
    txt("1861", 1325, 1857, { size: 15, family: CAP, weight: "bold", align: "left", width: 35 }),
  ];
  captionLines.forEach((l, i) => {
    const w = i === captionLines.length - 1 ? 532 : 1233;
    graphic.push(...para(l, 128, 913 + i * 23.6, w, 15.5, CAP));
  });
  const indents: Record<number, boolean> = { 7: true, 18: true };
  const ends: Record<number, number> = { 6: 608, 17: 1066 };
  bodyLines.forEach((l, i) => {
    const x = indents[i] ? 433 : 404;
    const w = (ends[i] ?? 1361) - x;
    graphic.push(...para(l, x, 1224 + i * 28.62, w, 21, SERIF));
  });

  const gridBase = { containLabel: false };
  const grid = [
    { ...gridBase, left: 216, top: 219.7, width: 418, height: 263 },
    { ...gridBase, left: 729.2, top: 265, width: 189.7, height: 247.3, show: true, borderColor: "#222", borderWidth: 1.4, backgroundColor: "transparent" },
    { ...gridBase, left: 1035.5, top: 273.7, width: 188.3, height: 236.6, show: true, borderColor: "#222", borderWidth: 1.4, backgroundColor: "transparent" },
    { ...gridBase, left: 189.3, top: 637, width: 351.4, height: 200.3 },
    { ...gridBase, left: 550, top: 631.5, width: 319.8, height: 205.8 },
    { ...gridBase, left: 924.7, top: 612.5, width: 311, height: 225.8 },
  ];

  const gridLine = { show: true, lineStyle: { color: "#8c8c8c", width: 1.4 } };
  const tickStyle = { color: "#8c8c8c", width: 1.2 };
  const labelStyle = { fontSize: LABEL_SIZE, fontFamily: SANS, color: INK, hideOverlap: false };
  const noLine = { show: false, onZero: false };
  const t1 = tsneAxes(3, [-40, 100], [-60, 62], p1BottomTicks, [-60, -40, -20, 0, 20, 40], [-40, -20, 0, 20, 40]);
  const t2 = tsneAxes(4, [-60, 175], [-60, 80], p2BottomTicks, [-60, -40, -20, 0, 20, 40], [-40, -20, 0, 20, 40]);
  const t3 = tsneAxes(5, [-60, 145], [-60, 110], p3BottomTicks, [-60, -40, -20, 0, 20, 40, 60], [-40, -20, 0, 20, 40, 60]);

  const xAxis: any[] = [
    {
      type: "category", gridIndex: 0, data: compartments, axisLine: noLine,
      axisTick: { show: true, alignWithLabel: true, length: 5.5, lineStyle: { color: "#777" } },
      axisLabel: { ...labelStyle, interval: 0, margin: 11.5 },
    },
    {
      type: "value", gridIndex: 1, min: 0.451, max: 1.027, axisLine: noLine, splitLine: gridLine,
      axisTick: { show: true, customValues: [0.6, 0.8, 1.0], length: 3, lineStyle: tickStyle },
      axisLabel: { ...labelStyle, customValues: [0.6, 0.8, 1.0], formatter: fixed1, margin: 5 },
    },
    {
      type: "value", gridIndex: 2, min: -0.919, max: 1.096, axisLine: noLine, splitLine: gridLine,
      axisTick: { show: true, customValues: [-0.5, 0, 0.5, 1], length: 3, lineStyle: tickStyle },
      axisLabel: { ...labelStyle, customValues: [-0.5, 0, 0.5, 1], formatter: fixed1, margin: 7 },
    },
    t1.x, t2.x, t3.x,
  ];
  const yAxis: any[] = [
    {
      type: "value", gridIndex: 0, min: -4.94, max: 103.3, offset: 2.4, axisLine: noLine, splitLine: { show: false },
      axisTick: { show: true, customValues: [0, 25, 50, 75, 100], length: 6, lineStyle: { color: "#777" } },
      axisLabel: { ...labelStyle, customValues: [0, 25, 50, 75, 100], margin: 14 },
    },
    {
      type: "value", gridIndex: 1, min: -1.97, max: 104, axisLine: noLine, splitLine: gridLine,
      axisTick: { show: true, customValues: [0, 25, 50, 75, 100], length: 3, lineStyle: tickStyle },
      axisLabel: { ...labelStyle, customValues: [0, 25, 50, 75, 100], margin: 12.7 },
    },
    {
      type: "value", gridIndex: 2, min: -0.923, max: 1.094, axisLine: noLine, splitLine: gridLine,
      axisTick: { show: true, customValues: [-0.5, 0, 0.5, 1], length: 3, lineStyle: tickStyle },
      axisLabel: { ...labelStyle, customValues: [-0.5, 0, 0.5, 1], formatter: plain, margin: 13.5 },
    },
    t1.y, t2.y, t3.y,
  ];

  const redLine = (data: any[]) => ({
    symbol: ["none", "none"], silent: true, animation: false, label: { show: false },
    lineStyle: { color: "#ff0000", type: [2, 2], width: 1.3, opacity: 1 }, data,
  });

  const scatterB = pointSeries(2, bPoints, 5.2) as any[];
  scatterB[scatterB.length - 1] = { ...scatterB[scatterB.length - 1], markLine: redLine([{ xAxis: 0.8 }, { yAxis: 0.6 }]) };

  const series: any[] = [
    {
      type: "bar", xAxisIndex: 0, yAxisIndex: 0, barWidth: 25, silent: true,
      data: coverage.map((v, i) => ({ value: v, itemStyle: { color: colors[i] } })),
    },
    {
      type: "line", xAxisIndex: 1, yAxisIndex: 1, symbol: "none", silent: true, z: 2,
      data: densityX.map((x, i) => [x, densityY[i]]),
      lineStyle: { color: "#3A8CC8", width: 1 }, areaStyle: { color: "#7CC9F0", opacity: 1 },
      markLine: redLine([{ xAxis: 0.8 }]),
    },
    ...scatterB,
    ...floorSeries(3, p1BottomTicks, p1Levels, 33.2, 1.2, 40),
    ...floorSeries(4, p2BottomTicks, p2Levels, 90.1, 2.2, 40),
    ...floorSeries(5, p3BottomTicks, p3Levels, 90.3, 2, 60),
    depthLabels(3, p1DepthLabels),
    depthLabels(4, p2DepthLabels),
    depthLabels(5, p3DepthLabels),
    ...pointSeries(3, p1Points, 4),
    ...pointSeries(4, p2Points, 4),
    ...pointSeries(5, p3Points, 4),
  ];

  const legendBase = {
    show: true, orient: "vertical", left: 1260, padding: 0, itemWidth: 14, itemHeight: 14, itemGap: 3.67,
    icon: "circle", selectedMode: false, textStyle: { fontSize: 13, fontFamily: SANS, color: INK, padding: [0, 0, 0, 9] },
  };
  const legend = [
    { ...legendBase, top: 611, data: ["S1", "S2", "S3", "S4"] },
    { ...legendBase, top: 686, data: ["N1", "N2", "N3", "N4"] },
    { ...legendBase, top: 761, data: ["C1", "C2", "C3", "C4", "C5"] },
    { ...legendBase, top: 853.3, data: ["M1", "M2"] },
  ];

  return { animation: false, backgroundColor: "#ffffff", grid, xAxis, yAxis, series, legend, graphic: { elements: graphic } };
}

export default function App() {
  const ref = useRef<HTMLDivElement>(null);
  useEffect(() => {
    document.body.style.margin = "0";
    const chart = echarts.init(ref.current as HTMLDivElement, undefined, { renderer: "svg" });
    chart.setOption(buildOption() as any);
    return () => chart.dispose();
  }, []);
  return <div ref={ref} style={{ width: 1489, height: 1978 }} />;
}
